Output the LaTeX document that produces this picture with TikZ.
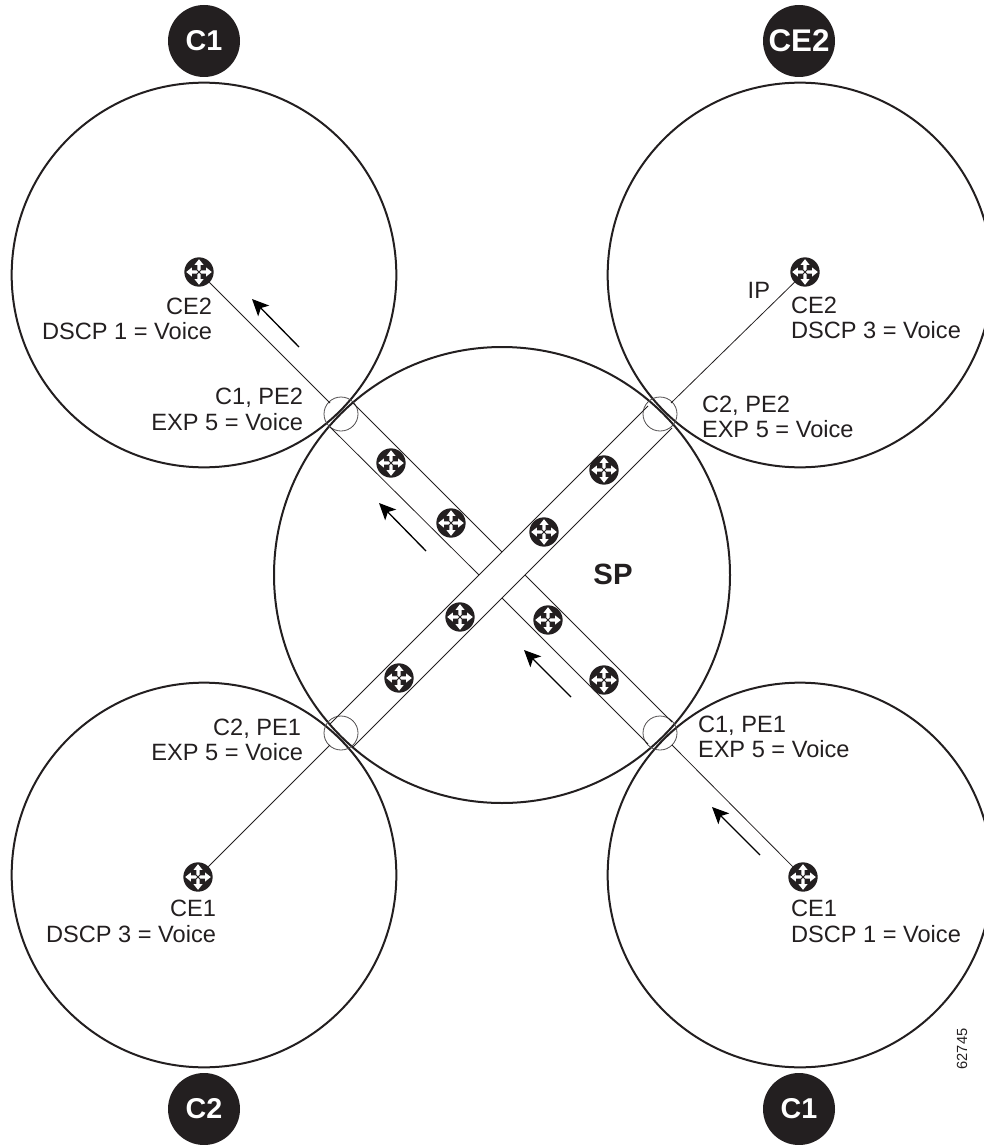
\documentclass[tikz,border=0pt]{standalone}
\usepackage{fontspec}
\setmainfont{Liberation Sans}
\usetikzlibrary{arrows.meta}
\definecolor{ink}{HTML}{231F20}
\tikzset{
  x=0.75pt,y=-0.75pt,
  region/.style={circle,draw=ink,line width=1.5pt,minimum size=288.5pt,inner sep=0pt,outer sep=0pt},
  core/.style={circle,draw=ink,line width=1.5pt,minimum size=342pt,inner sep=0pt,outer sep=0pt},
  joint/.style={circle,draw=ink!80,line width=0.6pt,minimum size=25.5pt,inner sep=0pt,outer sep=0pt},
  routerdot/.style={circle,fill=ink,minimum size=22pt,inner sep=0pt,outer sep=0pt},
  badge/.style={circle,fill=ink,text=white,minimum size=54pt,inner sep=0pt,font=\bfseries\fontsize{21.5}{24}\selectfont},
  wire/.style={draw=ink,line width=0.6pt},
  flow/.style={draw=black,line width=1pt,-{Stealth[length=12.5pt,width=11.5pt,inset=3pt]}},
  lab/.style={inner sep=0pt,outer sep=0pt,text=ink,font=\fontsize{17.7}{20}\selectfont,anchor=base},
  labl/.style={lab,anchor=base west},
  labr/.style={lab,anchor=base east}
}
\newcommand{\routerat}[3]{%
  \node[routerdot] (#1) at (#2,#3) {};
  \foreach \rot in {0,90,180,270}{%
    \fill[white,shift={(#2,#3)},rotate=\rot] (2.6,-1.7) -- (7.2,-1.7) -- (7.2,-4.5) -- (12.8,0) -- (7.2,4.5) -- (7.2,1.7) -- (2.6,1.7) -- (1.0,0) -- cycle;
  }%
}
\begin{document}
\begin{tikzpicture}
\useasboundingbox (0,0) rectangle (984,1145);
% regions
\node[region] (rTL) at (204,275) {};
\node[region] (rTR) at (800,275) {};
\node[region] (rBL) at (204,875) {};
\node[region] (rBR) at (800,875) {};
\node[core] (rSP) at (502,575) {};
% joints
\node[joint] (jTL) at (341,414) {};
\node[joint] (jTR) at (660,414) {};
\node[joint] (jBL) at (341,733) {};
\node[joint] (jBR) at (660,733) {};
% tube end points
\coordinate (a1) at (352,402);
\coordinate (a2) at (502,552);
\coordinate (a3) at (330,427);
\coordinate (a4) at (479,575);
\coordinate (b1) at (648,406);
\coordinate (b2) at (330,724);
\coordinate (b3) at (672,428);
\coordinate (b4) at (353,747);
\coordinate (c1) at (525,575);
\coordinate (c2) at (672,722);
\coordinate (c3) at (502,598);
\coordinate (c4) at (648,744);
\draw[wire] (a1) -- (a2);
\draw[wire] (a3) -- (a4);
\draw[wire] (b1) -- (b2);
\draw[wire] (b3) -- (b4);
\draw[wire] (c1) -- (c2);
\draw[wire] (c3) -- (c4);
% routers
\routerat{ce2l}{199}{272}
\routerat{ce2r}{805}{272}
\routerat{ce1l}{198}{877}
\routerat{ce1r}{803}{877}
\routerat{p1}{391}{463}
\routerat{p2}{451}{523}
\routerat{p3}{544}{532}
\routerat{p4}{604}{470}
\routerat{p5}{460}{617}
\routerat{p6}{399}{678}
\routerat{p7}{548}{620}
\routerat{p8}{604}{680}
% access links
\coordinate (lTL) at (330,403);
\coordinate (lTR) at (671,403);
\coordinate (lBL) at (330,745);
\coordinate (lBR) at (672,745);
\draw[wire] (ce2l) -- (lTL);
\draw[wire] (ce2r) -- (lTR);
\draw[wire] (ce1l) -- (lBL);
\draw[wire] (ce1r) -- (lBR);
% flow arrows
\coordinate (f1s) at (299,347); \coordinate (f1e) at (252,299);
\coordinate (f2s) at (426,551); \coordinate (f2e) at (379,503);
\coordinate (f3s) at (571,697); \coordinate (f3e) at (524,650);
\coordinate (f4s) at (760,855); \coordinate (f4e) at (712,807);
\draw[flow] (f1s) -- (f1e);
\draw[flow] (f2s) -- (f2e);
\draw[flow] (f3s) -- (f3e);
\draw[flow] (f4s) -- (f4e);
% badges
\node[badge] (bTL) at (204,41) {C1};
\node[badge,font=\bfseries\fontsize{23.5}{26}\selectfont] (bTR) at (799,41) {CE2};
\node[badge] (bBL) at (204,1109) {C2};
\node[badge] (bBR) at (799,1109) {C1};
% labels
\node[labr] (t1) at (212,314) {CE2};
\node[labr] (t2) at (212,339) {DSCP 1 = Voice};
\node[labr] (t3) at (303,404) {C1, PE2};
\node[labr] (t4) at (303,430) {EXP 5 = Voice};
\node[labl] (t5) at (791,313) {CE2};
\node[labl] (t6) at (791,338) {DSCP 3 = Voice};
\node[labr] (t7) at (770,298) {IP};
\node[labl] (t8) at (702,412) {C2, PE2};
\node[labl] (t9) at (702,437) {EXP 5 = Voice};
\node[labr] (t10) at (301,735) {C2, PE1};
\node[labr] (t11) at (303,760) {EXP 5 = Voice};
\node[labl] (t12) at (698,732) {C1, PE1};
\node[labl] (t13) at (698,757) {EXP 5 = Voice};
\node[labr] (t14) at (216,916) {CE1};
\node[labr] (t15) at (216,942) {DSCP 3 = Voice};
\node[labl] (t16) at (791,916) {CE1};
\node[labl] (t17) at (791,942) {DSCP 1 = Voice};
\node[inner sep=0pt,text=ink,font=\bfseries\fontsize{22}{26}\selectfont] (sp) at (613,574) {SP};
\node[inner sep=0pt,text=ink,font=\fontsize{11}{13}\selectfont,rotate=90] (num) at (962,1049) {62745};
\end{tikzpicture}
\end{document}
